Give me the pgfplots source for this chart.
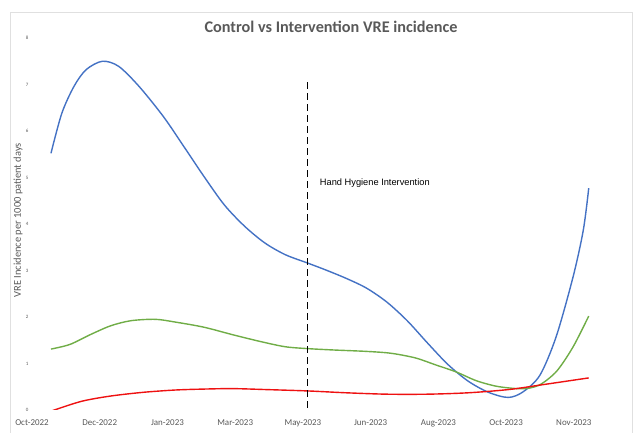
\documentclass[border=0pt]{standalone}
\usepackage{fontspec}
\setmainfont{Carlito}
\newfontfamily\arial{Liberation Sans}
\usepackage{pgfplots}
\pgfplotsset{compat=1.18}
\definecolor{xlblue}{HTML}{4472C4}
\definecolor{xlgreen}{HTML}{70AD47}
\definecolor{xlred}{HTML}{EE1111}
\definecolor{txtgray}{HTML}{595959}
\begin{document}
\begin{tikzpicture}[x=1bp,y=1bp]
\path[use as bounding box] (0,0) rectangle (640,433);
\draw[black!12, line width=0.8bp] (10,-2) rectangle (632,421);
\node[font=\bfseries\fontsize{16.3}{18}\selectfont, text=txtgray] at (331,406) {Control vs Intervention VRE incidence};
\begin{axis}[
  at={(32bp,23bp)}, anchor=south west,
  scale only axis, width=596bp, height=372bp,
  xmin=0, xmax=8.8, ymin=0, ymax=8,
  axis line style={draw=none}, major tick length=0pt,
  xtick={0,...,8},
  xticklabels={Oct-2022,Dec-2022,Jan-2023,Mar-2023,May-2023,Jun-2023,Aug-2023,Oct-2023,Nov-2023},
  ytick={0,...,8},
  /pgf/number format/assume math mode=true,
  xticklabel style={font=\fontsize{9}{10}\selectfont, text=txtgray, yshift=-6bp},
  yticklabel style={font=\fontsize{5}{6}\selectfont, text=txtgray, xshift=0bp},
  ylabel={VRE Incidence per 1000 patient days},
  ylabel style={at={(axis description cs:-0.0235,0.51)}, anchor=center, font=\fontsize{10.5}{12}\selectfont, text=txtgray},
  every axis plot/.append style={line width=1.4bp, smooth, no marks},
]
\addplot[xlblue] coordinates {
(0.28,5.52) (0.44,6.38) (0.62,6.96) (0.80,7.32) (1.04,7.50) (1.28,7.39)
(1.58,6.96) (1.94,6.31) (2.24,5.67) (2.54,5.02) (2.84,4.41) (3.14,3.95)
(3.44,3.59) (3.74,3.34) (4.07,3.16) (4.34,3.01) (4.64,2.83) (4.94,2.62)
(5.24,2.32) (5.54,1.92) (5.84,1.44) (6.14,0.98) (6.44,0.62) (6.74,0.38)
(7.03,0.27) (7.25,0.39) (7.50,0.75) (7.74,1.58) (7.99,2.87) (8.14,3.87)
(8.22,4.77)};
\addplot[xlgreen] coordinates {
(0.28,1.31) (0.56,1.41) (0.86,1.62) (1.16,1.81) (1.46,1.92) (1.82,1.95)
(2.12,1.89) (2.54,1.78) (2.96,1.62) (3.38,1.47) (3.74,1.36) (4.07,1.32)
(4.46,1.29) (4.94,1.26) (5.30,1.22) (5.66,1.12) (5.96,0.97) (6.26,0.82)
(6.56,0.63) (6.86,0.51) (7.16,0.46) (7.34,0.47) (7.52,0.56) (7.75,0.84)
(7.99,1.36) (8.22,2.02)};
\addplot[xlred] coordinates {
(0.28,-0.03) (0.35,0.01) (0.74,0.19) (1.16,0.30) (1.64,0.38) (2.12,0.43)
(2.54,0.45) (2.96,0.46) (3.44,0.44) (4.07,0.41) (4.64,0.37) (5.24,0.34)
(5.84,0.34) (6.44,0.37) (7.04,0.44) (7.52,0.54) (8.22,0.69)};
\addplot[black, line width=1.2bp, sharp plot, dash pattern=on 7bp off 4bp] coordinates {(4.07,0.05) (4.07,7.1)};
\node[anchor=west, font=\arial\fontsize{9.3}{11}\selectfont, text=black] at (axis cs:4.2,4.88) {Hand Hygiene Intervention};
\end{axis}
\end{tikzpicture}
\end{document}
